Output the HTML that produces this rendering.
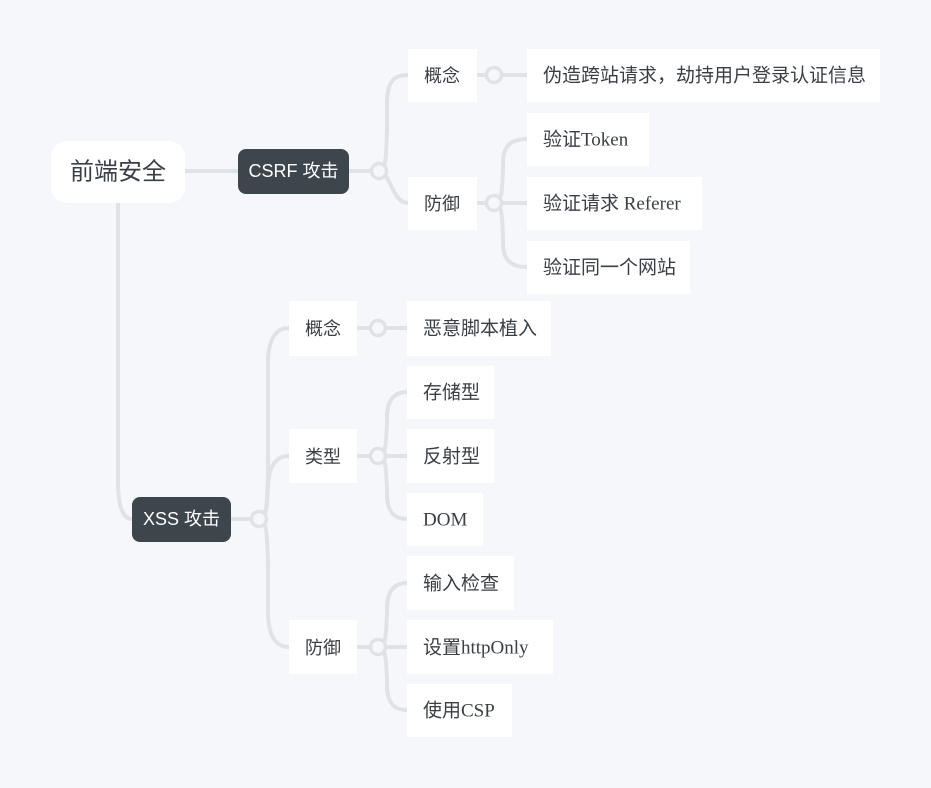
<!DOCTYPE html>
<html><head><meta charset="utf-8"><style>
body{margin:0;background:#f5f7fa;}
svg{display:block}
.l{fill:none;stroke:#dfe3e8;stroke-width:4;stroke-linecap:round}
.c{fill:#f5f7fa;stroke:#dfe3e8;stroke-width:3.5}
.b{fill:#fff}
.t{font-family:"Liberation Serif","Noto Sans CJK SC",serif;font-size:19px;fill:#3a3f45;dominant-baseline:central}
.s{font-family:"Liberation Sans","Noto Sans CJK SC",sans-serif;font-size:18px;fill:#3a3f45;dominant-baseline:central}
.w{font-family:"Liberation Sans","Noto Sans CJK SC",sans-serif;font-size:18px;fill:#fff;dominant-baseline:central}
</style></head><body>
<svg width="931" height="788" viewBox="0 0 931 788">
<rect width="931" height="788" fill="#f5f7fa"/>
<path class="l" d="M185 171 L238 171"/>
<path class="l" d="M118 203 L118 480 C118 505 122 519 132 519"/>
<path class="l" d="M349 171 L379 171"/>
<path class="l" d="M379 171 C387 171 386 150 387 130 L387 100 C388 80 395 75 408 75"/>
<path class="l" d="M379 171 C390 171 392 203 408 203"/>
<path class="l" d="M477 75 L527 75"/>
<path class="l" d="M477 203 L527 203"/>
<path class="l" d="M494 203 C503 203 502 185 503 170 L503 160 C504 145 512 139 527 139"/>
<path class="l" d="M494 203 C503 203 502 221 503 236 L503 246 C504 261 512 267 527 267"/>
<path class="l" d="M231 519 L259 519"/>
<path class="l" d="M259 519 C268 519 267 495 268 475 L268 360 C269 338 276 328 289 328"/>
<path class="l" d="M259 519 C268 519 267 500 268 485 C269 466 276 456 289 456"/>
<path class="l" d="M259 519 C268 519 267 543 268 563 L268 615 C269 637 276 647 289 647"/>
<path class="l" d="M357 328 L407 328"/>
<path class="l" d="M357 456 L407 456"/>
<path class="l" d="M378 456 C387 456 386 438 387 423 L387 415 C388 399 395 392 407 392"/>
<path class="l" d="M378 456 C387 456 386 474 387 489 L387 497 C388 513 395 519 407 519"/>
<path class="l" d="M357 647 L407 647"/>
<path class="l" d="M378 647 C387 647 386 629 387 614 L387 606 C388 590 395 583 407 583"/>
<path class="l" d="M378 647 C387 647 386 665 387 680 L387 688 C388 704 395 710 407 710"/>
<circle class="c" cx="379" cy="171" r="7.5"/>
<circle class="c" cx="494" cy="75" r="7.5"/>
<circle class="c" cx="494" cy="203" r="7.5"/>
<circle class="c" cx="259" cy="519" r="7.5"/>
<circle class="c" cx="378" cy="328" r="7.5"/>
<circle class="c" cx="378" cy="456" r="7.5"/>
<circle class="c" cx="378" cy="647" r="7.5"/>
<rect class="b" x="51" y="141" width="134" height="62" rx="16"/>
<text class="s" x="118" y="172" text-anchor="middle" style="font-size:24px">前端安全</text>
<rect x="238" y="149" width="111" height="45" rx="8" fill="#3d454d"/>
<text class="w" x="293.5" y="171" text-anchor="middle">CSRF 攻击</text>
<rect x="132" y="497" width="99" height="45" rx="8" fill="#3d454d"/>
<text class="w" x="181.5" y="519" text-anchor="middle">XSS 攻击</text>
<rect class="b" x="408" y="49" width="69" height="53"/><text class="s" x="424" y="76">概念</text>
<rect class="b" x="408" y="177" width="69" height="53"/><text class="s" x="424" y="204">防御</text>
<rect class="b" x="527" y="49" width="353" height="53"/><text class="t" x="543" y="76">伪造跨站请求，劫持用户登录认证信息</text>
<rect class="b" x="527" y="113" width="122" height="53"/><text class="t" x="543" y="140">验证Token</text>
<rect class="b" x="527" y="177" width="175" height="53"/><text class="t" x="543" y="204">验证请求 Referer</text>
<rect class="b" x="527" y="241" width="163" height="53"/><text class="t" x="543" y="268">验证同一个网站</text>
<rect class="b" x="289" y="301" width="68" height="55"/><text class="s" x="305" y="329">概念</text>
<rect class="b" x="289" y="429" width="68" height="54"/><text class="s" x="305" y="457">类型</text>
<rect class="b" x="289" y="620" width="68" height="54"/><text class="s" x="305" y="648">防御</text>
<rect class="b" x="407" y="301" width="144" height="55"/><text class="t" x="423" y="329">恶意脚本植入</text>
<rect class="b" x="407" y="366" width="87" height="53"/><text class="t" x="423" y="393">存储型</text>
<rect class="b" x="407" y="429" width="87" height="54"/><text class="t" x="423" y="457">反射型</text>
<rect class="b" x="407" y="493" width="76" height="53"/><text class="t" x="423" y="520">DOM</text>
<rect class="b" x="407" y="556" width="107" height="54"/><text class="t" x="423" y="584">输入检查</text>
<rect class="b" x="407" y="620" width="146" height="54"/><text class="t" x="423" y="648">设置httpOnly</text>
<rect class="b" x="407" y="684" width="105" height="53"/><text class="t" x="423" y="711">使用CSP</text>
</svg>
</body></html>
